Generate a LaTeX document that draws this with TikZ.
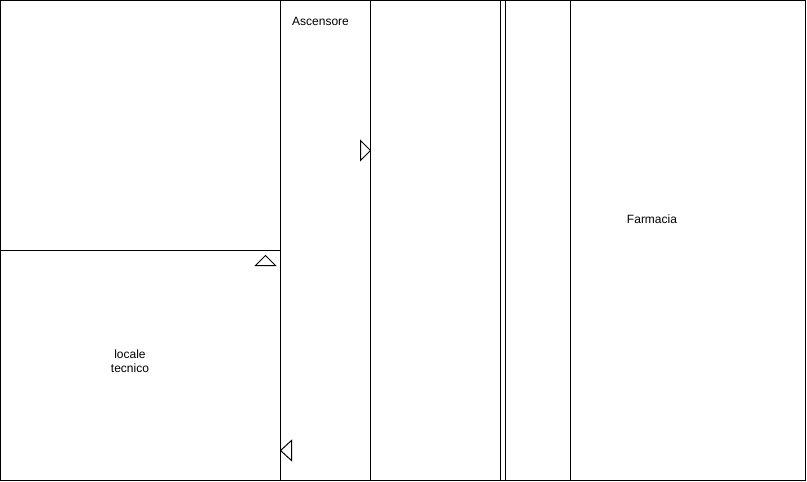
\documentclass[tikz,border=0pt]{standalone}
\usepackage{fontspec}
\setmainfont{Liberation Sans}
\tikzset{
  wall/.style={draw=black,line width=1pt},
  doormark/.style={draw=black,line width=1pt,fill=white,line join=miter},
  roomlabel/.style={font=\fontsize{12}{14}\selectfont,align=center,inner sep=0pt}
}
\begin{document}
\begin{tikzpicture}[x=1pt,y=-1pt]
  \useasboundingbox (0,0) rectangle (807,482);
  \draw[wall] (0.5,0.5) rectangle (805.5,480.5);
  \foreach \x in {280.5,370.5,500.5,505.5,570.5}
    \draw[wall] (\x,0.5) -- (\x,480.5);
  \draw[wall] (0.5,250.5) -- (280.5,250.5);
  % door marks
  \draw[doormark] (360.5,140.5) -- (370.5,150.5) -- (360.5,160.5) -- cycle;
  \draw[doormark] (255.5,265.5) -- (265.5,255.5) -- (275.5,265.5) -- cycle;
  \draw[doormark] (291.5,440.5) -- (280.5,450.5) -- (291.5,460.5) -- cycle;
  \node[roomlabel] (ascensore) at (320.5,21.3) {Ascensore};
  \node[roomlabel] (farmacia) at (652,219.3) {Farmacia};
  \node[roomlabel] (locale) at (130,361.3) {locale\\tecnico};
\end{tikzpicture}
\end{document}
